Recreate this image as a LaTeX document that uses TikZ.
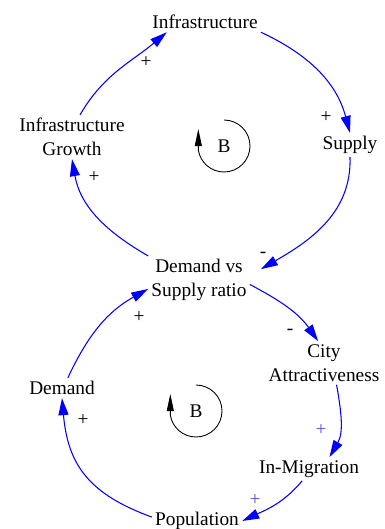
\documentclass[tikz,border=0pt]{standalone}
\usepackage{fontspec}
\setmainfont{Liberation Serif}
\usepackage{tikz}
\usetikzlibrary{arrows.meta}
\definecolor{signviolet}{RGB}{90,80,220}
\tikzset{%
	var/.style = { align=center, inner sep=1.7pt },
	link/.style = { blue, line width=0.6pt, -{Triangle[length=0.34cm, width=0.2cm]} },
	sign/.style = { inner sep=0pt },
	loopmark/.style = { black, line width=0.5pt, -{Triangle[length=0.34cm, width=0.14cm]} }
}

\begin{document}
\begin{tikzpicture}[x=0.02cm, y=0.02cm, every node/.style={font=\fontsize{11}{13.6}\selectfont}]
	\useasboundingbox (0,0) rectangle (385,529);
	% 变量
	\node[var] (infra) at (205,507) {Infrastructure};
	\node[var] (supply) at (350,384) {Supply};
	\node[var] (growth) at (72,392) {Infrastructure\\Growth};
	\node[var] (ratio) at (199,249) {Demand vs\\Supply ratio};
	\node[var] (city) at (324,166) {City\\Attractiveness};
	\node[var] (demand) at (62,141) {Demand};
	\node[var] (migr) at (309,60) {In-Migration};
	\node[var] (pop) at (197,8) {Population};
	% 上回路
	\draw[link] (infra.south east) to[out=-25, in=105] (supply.north);
	\draw[link] (supply.south) to[out=-88, in=30] ([xshift=0.22cm]ratio.12);
	\draw[link] (ratio.north west) to[out=150, in=-80] (growth.south);
	\draw[link] (growth.70) to[out=60, in=-140] (infra.-165);
	% 下回路
	\draw[link] (ratio.-5) to[out=-28, in=125] (city.105);
	\draw[link] (city.-60) to[out=-80, in=60] (migr.30);
	\draw[link] (migr.-120) to[out=-130, in=25] (pop.east);
	\draw[link] (pop.175) to[out=160, in=-85, looseness=1.15] (demand.south);
	\draw[link] (demand.60) to[out=65, in=-151] (ratio.190);
	% 极性
	\node[sign] (s1) at (146,467) {+};
	\node[sign] (s2) at (326,412) {+};
	\node[sign] (s3) at (263,274) {-};
	\node[sign] (s4) at (94,352) {+};
	\node[sign] (s5) at (139,212) {+};
	\node[sign] (s6) at (290,197) {-};
	\node[sign, signviolet] (s7) at (321,99) {+};
	\node[sign, signviolet] (s8) at (255,29) {+};
	\node[sign] (s9) at (83,109) {+};
	% 回路标记
	\node (loopA) at (224,383) {B};
	\draw[loopmark] ([yshift=0.52cm]loopA.center) arc[start angle=90, end angle=-171, radius=26] -- ++(0,21);
	\node (loopB) at (196,118) {B};
	\draw[loopmark] ([yshift=0.52cm]loopB.center) arc[start angle=90, end angle=-171, radius=26] -- ++(0,21);
\end{tikzpicture}
\end{document}
